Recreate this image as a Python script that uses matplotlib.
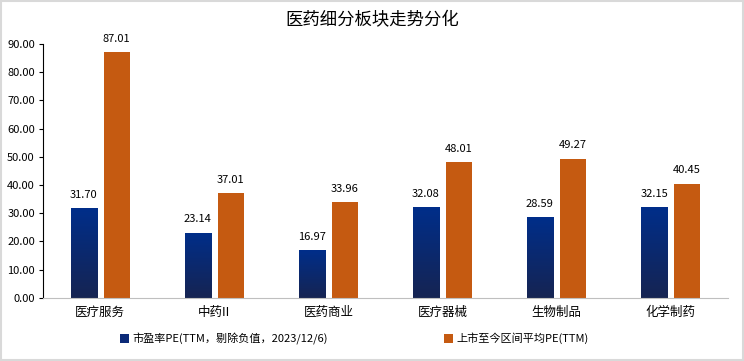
import matplotlib
matplotlib.use("Agg")
import matplotlib.pyplot as plt
import matplotlib.patches as mpatches
import numpy as np

plt.rcParams['font.family'] = ['Noto Sans CJK SC', 'DejaVu Sans']

title = "医药细分板块走势分化"
categories = ["医疗服务", "中药II", "医药商业", "医疗器械", "生物制品", "化学制药"]
pe_now = [31.70, 23.14, 16.97, 32.08, 28.59, 32.15]
pe_avg = [87.01, 37.01, 33.96, 48.01, 49.27, 40.45]
label_now = "市盈率PE(TTM，剔除负值，2023/12/6)"
label_avg = "上市至今区间平均PE(TTM)"

orange = "#C55A11"
blue_top = np.array([0, 46, 138]) / 255
blue_bot = np.array([22, 36, 82]) / 255

fig = plt.figure(figsize=(7.44, 3.61), dpi=100)
ax = fig.add_axes([0.058, 0.175, 0.92, 0.703])

x = np.arange(len(categories))
w = 0.228
off = 0.145

# gradient for the blue bars
grad = np.linspace(0, 1, 256)[:, None]
cmap = matplotlib.colors.LinearSegmentedColormap.from_list("b", [blue_bot, blue_top])
for xi, v in zip(x, pe_now):
    rect = mpatches.Rectangle((xi - off - w / 2, 0), w, v, facecolor="none", edgecolor="none")
    ax.add_patch(rect)
    im = ax.imshow(grad, cmap=cmap, origin="lower", aspect="auto",
                   extent=(xi - off - w / 2, xi - off + w / 2, 0, v), zorder=2)
    im.set_clip_path(rect)
    ax.text(xi - off, v + 3, f"{v:.2f}", ha="center", va="bottom", fontsize=8)

ax.bar(x + off, pe_avg, w, color=orange, zorder=2)
for xi, v in zip(x, pe_avg):
    ax.text(xi + off, v + 3, f"{v:.2f}", ha="center", va="bottom", fontsize=8)

ax.set_xlim(-0.5, len(categories) - 0.5)
ax.set_ylim(0, 90)
ax.set_yticks(np.arange(0, 91, 10))
ax.set_yticklabels([f"{t:.2f}" for t in np.arange(0, 91, 10)], fontsize=8)
ax.set_xticks(x)
ax.set_xticklabels(categories, fontsize=9)
ax.tick_params(axis="x", length=0, pad=6)
ax.tick_params(axis="y", length=3, width=0.8, pad=3)
for s in ["top", "right"]:
    ax.spines[s].set_visible(False)
ax.spines["left"].set_color("black")
ax.spines["left"].set_linewidth(0.8)
ax.spines["bottom"].set_color("#BFBFBF")

fig.text(0.5, 0.945, title, ha="center", va="center", fontsize=12.5)

h1 = mpatches.Patch(facecolor="#0B2A78", edgecolor="none")
h2 = mpatches.Patch(facecolor=orange, edgecolor="none")
fig.legend([h1, h2], [label_now, label_avg], loc="center", bbox_to_anchor=(0.476, 0.062),
           ncol=2, frameon=False, fontsize=8, handlelength=0.8, handleheight=0.8,
           handletextpad=0.3, columnspacing=10.5)

fig.add_artist(mpatches.Rectangle((0.001, 0.002), 0.997, 0.995, transform=fig.transFigure,
                                  fill=False, edgecolor="#D9D9D9", linewidth=1.5))

fig.savefig("out.png", dpi=100)
